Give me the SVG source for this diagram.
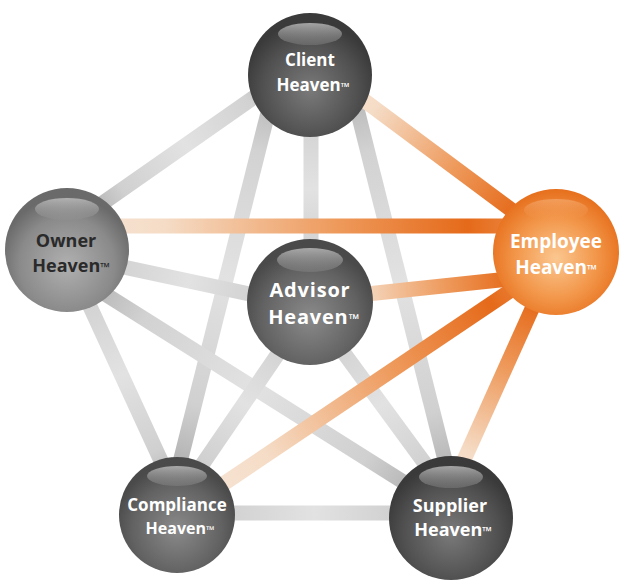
<svg xmlns="http://www.w3.org/2000/svg" width="626" height="587" viewBox="0 0 626 587">
<style>
.g{fill:none;stroke-width:15;stroke-linecap:butt}
.t{font-family:"Open Sans","Liberation Sans",sans-serif;font-weight:700;text-anchor:middle;fill:#fff}
.tm{font-size:0.68em}
</style>
<defs>
<linearGradient id="gray" gradientUnits="userSpaceOnUse">
<stop offset="0" stop-color="#a9a9a9"/><stop offset="0.2" stop-color="#d2d2d2"/><stop offset="0.5" stop-color="#e2e2e2"/><stop offset="0.8" stop-color="#d0d0d0"/><stop offset="1" stop-color="#a5a5a5"/>
</linearGradient>
<linearGradient id="g1" href="#gray" x1="290" y1="72" x2="80" y2="219"/>
<linearGradient id="g2" href="#gray" x1="311" y1="75" x2="311" y2="302"/>
<linearGradient id="g3" href="#gray" x1="280" y1="65" x2="173" y2="490"/>
<linearGradient id="g4" href="#gray" x1="346" y1="65" x2="455" y2="500"/>
<linearGradient id="g5" href="#gray" x1="67" y1="255" x2="310" y2="307"/>
<linearGradient id="g6" href="#gray" x1="64" y1="250" x2="179" y2="500"/>
<linearGradient id="g7" href="#gray" x1="70" y1="272" x2="440" y2="505"/>
<linearGradient id="g8" href="#gray" x1="310" y1="307" x2="178" y2="500"/>
<linearGradient id="g9" href="#gray" x1="305" y1="300" x2="459" y2="510"/>
<linearGradient id="g10" href="#gray" x1="177" y1="513" x2="451" y2="513"/>
<linearGradient id="org" gradientUnits="userSpaceOnUse">
<stop offset="0" stop-color="#f7e6d8"/><stop offset="0.2" stop-color="#f5dcc6"/><stop offset="0.55" stop-color="#ee9a5c"/><stop offset="0.82" stop-color="#e56a1a"/><stop offset="1" stop-color="#ef9a5a"/>
</linearGradient>
<linearGradient id="o1" href="#org" x1="330" y1="75" x2="556" y2="243"/>
<linearGradient id="o2" href="#org" x1="67" y1="226" x2="556" y2="226"/>
<linearGradient id="o3" href="#org" x1="310" y1="300" x2="556" y2="274"/>
<linearGradient id="o4" href="#org" x1="195" y1="503" x2="556" y2="260"/>
<linearGradient id="o5" href="#org" x1="446" y1="500" x2="554" y2="260"/>
<radialGradient id="sDark" cx="0.5" cy="0.62" r="0.55">
<stop offset="0" stop-color="#7a7a7a"/><stop offset="0.7" stop-color="#505050"/><stop offset="1" stop-color="#3a3a3a"/>
</radialGradient>
<radialGradient id="sMid" cx="0.5" cy="0.62" r="0.55">
<stop offset="0" stop-color="#8a8a8a"/><stop offset="0.7" stop-color="#626262"/><stop offset="1" stop-color="#4a4a4a"/>
</radialGradient>
<radialGradient id="sLight" cx="0.5" cy="0.62" r="0.55">
<stop offset="0" stop-color="#b0b0b0"/><stop offset="0.7" stop-color="#8a8a8a"/><stop offset="1" stop-color="#6a6a6a"/>
</radialGradient>
<radialGradient id="sOrg" cx="0.5" cy="0.55" r="0.55">
<stop offset="0" stop-color="#fbc790"/><stop offset="0.6" stop-color="#f29548"/><stop offset="1" stop-color="#e66f1c"/>
</radialGradient>
<linearGradient id="hl" x1="0" y1="0" x2="0" y2="1">
<stop offset="0" stop-color="#c8c8c8" stop-opacity="0.75"/><stop offset="1" stop-color="#909090" stop-opacity="0.35"/>
</linearGradient>
<linearGradient id="hlo" x1="0" y1="0" x2="0" y2="1">
<stop offset="0" stop-color="#ffd9b5" stop-opacity="0.35"/><stop offset="1" stop-color="#f5a060" stop-opacity="0"/>
</linearGradient>
</defs>
<g id="connectors">
<line class="g" stroke="url(#g1)" x1="290" y1="72" x2="80" y2="219"/>
<line class="g" stroke="url(#g2)" x1="311" y1="75" x2="311" y2="302"/>
<line class="g" stroke="url(#g3)" x1="280" y1="65" x2="173" y2="490"/>
<line class="g" stroke="url(#g4)" x1="346" y1="65" x2="455" y2="500"/>
<line class="g" stroke="url(#g5)" x1="67" y1="255" x2="310" y2="307"/>
<line class="g" stroke="url(#g6)" x1="64" y1="250" x2="179" y2="500"/>
<line class="g" stroke="url(#g7)" x1="70" y1="272" x2="440" y2="505"/>
<line class="g" stroke="url(#g8)" x1="310" y1="307" x2="178" y2="500"/>
<line class="g" stroke="url(#g9)" x1="305" y1="300" x2="459" y2="510"/>
<line class="g" stroke="url(#g10)" x1="177" y1="513" x2="451" y2="513"/>
<line class="g" stroke="url(#o1)" x1="330" y1="75" x2="556" y2="243"/>
<line class="g" stroke="url(#o2)" x1="67" y1="226" x2="556" y2="226"/>
<line class="g" stroke="url(#o3)" x1="310" y1="300" x2="556" y2="274"/>
<line class="g" stroke="url(#o4)" x1="195" y1="503" x2="556" y2="260"/>
<line class="g" stroke="url(#o5)" x1="446" y1="500" x2="554" y2="260"/>
</g>
<g id="client">
<circle cx="310" cy="75" r="62" fill="url(#sDark)"/>
<ellipse cx="310" cy="34" rx="32" ry="11" fill="url(#hl)"/>
<text class="t" x="310" y="66" font-size="17">Client</text>
<text class="t" x="313" y="91" font-size="17">Heaven<tspan class="tm">™</tspan></text>
</g>
<g id="owner">
<circle cx="67" cy="250" r="62" fill="url(#sLight)"/>
<ellipse cx="67" cy="209" rx="32" ry="11" fill="url(#hl)"/>
<text class="t" x="66" y="247" font-size="18" style="fill:#2a2a2a">Owner</text>
<text class="t" x="71" y="272" font-size="18" style="fill:#2a2a2a">Heaven<tspan class="tm">™</tspan></text>
</g>
<g id="employee">
<circle cx="556" cy="252" r="63" fill="url(#sOrg)"/>
<ellipse cx="556" cy="210" rx="32" ry="11" fill="url(#hlo)"/>
<text class="t" x="556" y="248" font-size="19">Employee</text>
<text class="t" x="556" y="274" font-size="19">Heaven<tspan class="tm">™</tspan></text>
</g>
<g id="advisor">
<circle cx="310" cy="302" r="63" fill="url(#sMid)"/>
<ellipse cx="310" cy="260" rx="33" ry="12" fill="url(#hl)"/>
<text class="t" x="310" y="297" font-size="20" letter-spacing="0.8">Advisor</text>
<text class="t" x="314" y="324" font-size="20" letter-spacing="0.8">Heaven<tspan class="tm">™</tspan></text>
</g>
<g id="compliance">
<circle cx="177" cy="515" r="58" fill="url(#sMid)"/>
<ellipse cx="177" cy="476" rx="30" ry="10" fill="url(#hl)"/>
<text class="t" x="177" y="511" font-size="17">Compliance</text>
<text class="t" x="180" y="534" font-size="16">Heaven<tspan class="tm">™</tspan></text>
</g>
<g id="supplier">
<circle cx="451" cy="518" r="62" fill="url(#sDark)"/>
<ellipse cx="451" cy="477" rx="32" ry="11" fill="url(#hl)"/>
<text class="t" x="450" y="512" font-size="18">Supplier</text>
<text class="t" x="453" y="536" font-size="18">Heaven<tspan class="tm">™</tspan></text>
</g>
</svg>
